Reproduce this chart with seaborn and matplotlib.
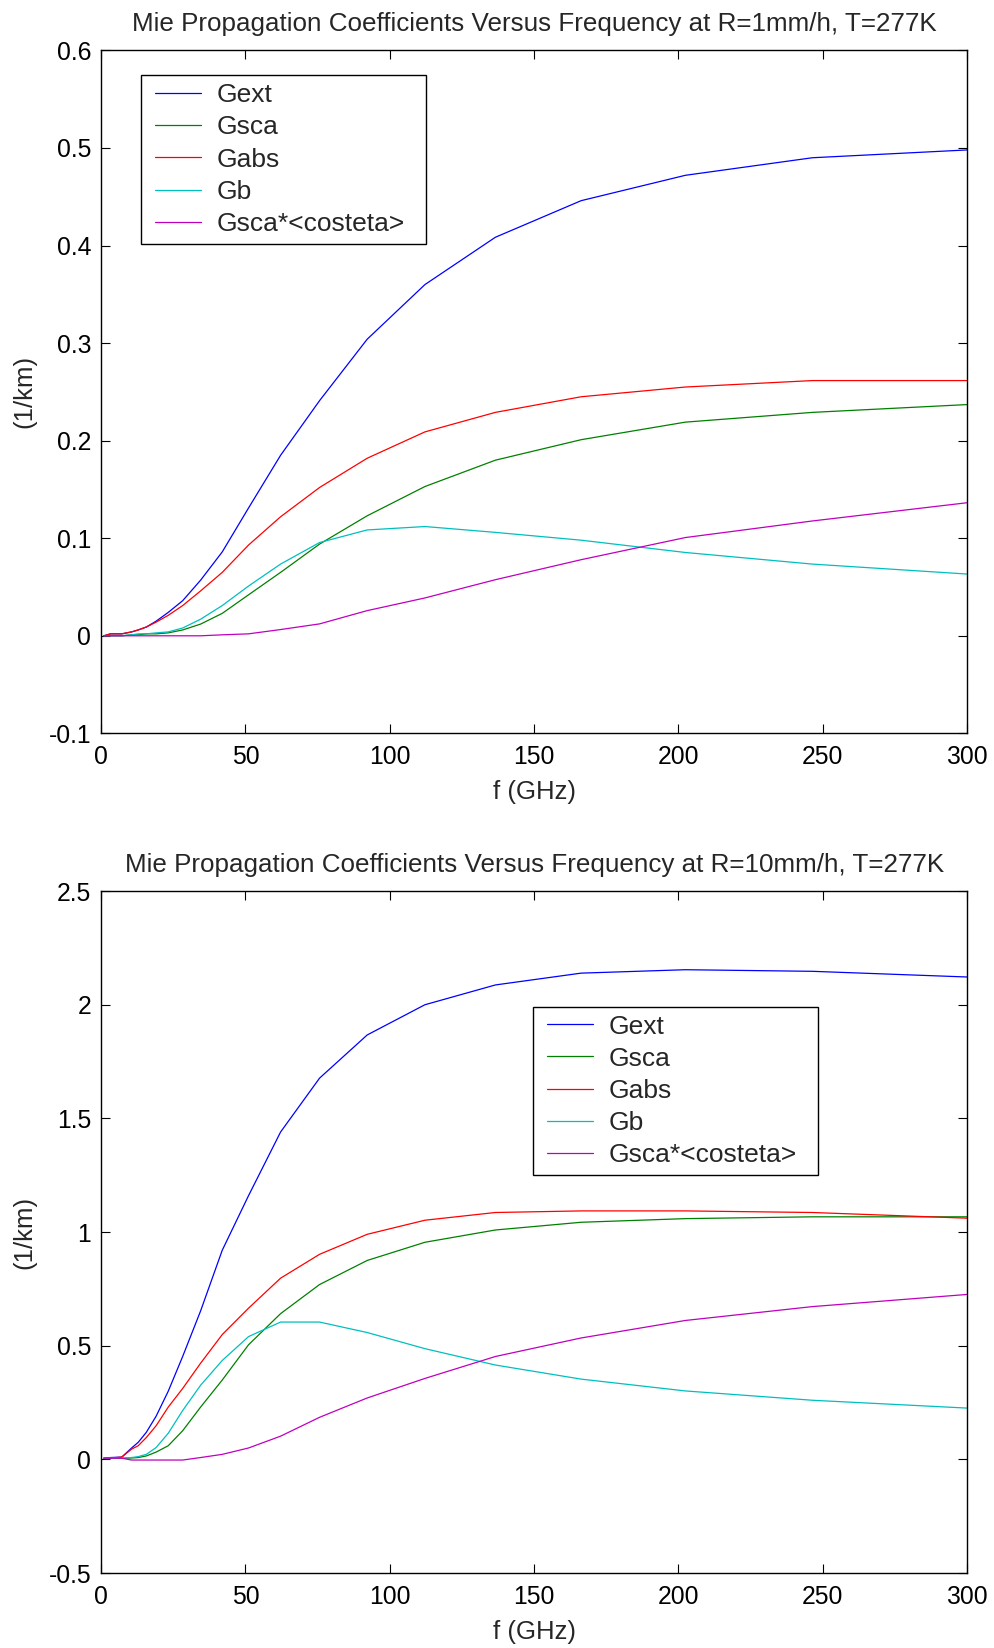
import matplotlib
matplotlib.use("Agg")
import matplotlib.pyplot as plt
from matplotlib.patches import Rectangle
import seaborn as sns
import pandas as pd

# Frequency grid (GHz)
freq = [1.0, 3.3, 7.2, 10.6, 12.9, 15.7, 19.1, 23.3, 28.3, 34.5, 42.0,
        51.1, 62.2, 75.7, 92.2, 112.2, 136.6, 166.3, 202.4, 246.4, 300.0]

series_names = ["Gext", "Gsca", "Gabs", "Gb", "Gsca*<costeta>"]

# R = 1 mm/h
r1_gext = [0.0, 0.002, 0.002, 0.004, 0.006, 0.009, 0.015, 0.024, 0.036, 0.057, 0.086,
           0.131, 0.185, 0.241, 0.304, 0.360, 0.4085, 0.446, 0.472, 0.490, 0.498]
r1_gsca = [0.0, 0.0, 0.0, 0.001, 0.001, 0.002, 0.002, 0.003, 0.006, 0.012, 0.023,
           0.042, 0.065, 0.094, 0.123, 0.153, 0.180, 0.201, 0.219, 0.229, 0.237]
r1_gabs = [0.0, 0.002, 0.002, 0.004, 0.006, 0.009, 0.014, 0.021, 0.031, 0.046, 0.065,
           0.093, 0.122, 0.152, 0.182, 0.209, 0.229, 0.245, 0.255, 0.2616, 0.2616]
r1_gb = [0.0, 0.0, 0.0, 0.001, 0.002, 0.002, 0.003, 0.004, 0.008, 0.017, 0.031,
         0.051, 0.0735, 0.0956, 0.1085, 0.112, 0.106, 0.098, 0.0854, 0.0735, 0.0633]
r1_gcos = [0.0, 0.0, 0.0, 0.0, 0.0, 0.0, 0.0, 0.0, 0.0, 0.0, 0.001,
           0.002, 0.0064, 0.0122, 0.0258, 0.0388, 0.0575, 0.078, 0.1007, 0.1177, 0.1364]

# R = 10 mm/h
r10_gext = [0.005, 0.008, 0.010, 0.050, 0.075, 0.119, 0.190, 0.300, 0.453, 0.653, 0.920,
            1.160, 1.440, 1.677, 1.867, 2.000, 2.087, 2.139, 2.154, 2.147, 2.122]
r10_gsca = [0.005, 0.005, 0.005, 0.006, 0.008, 0.015, 0.032, 0.060, 0.126, 0.230, 0.349,
            0.504, 0.641, 0.769, 0.875, 0.955, 1.009, 1.043, 1.059, 1.067, 1.067]
r10_gabs = [0.005, 0.006, 0.010, 0.045, 0.060, 0.096, 0.148, 0.230, 0.312, 0.423, 0.549,
            0.665, 0.797, 0.902, 0.990, 1.052, 1.086, 1.093, 1.093, 1.086, 1.061]
r10_gb = [0.005, 0.005, 0.005, 0.008, 0.012, 0.022, 0.052, 0.115, 0.215, 0.326, 0.435,
          0.540, 0.604, 0.604, 0.558, 0.487, 0.415, 0.353, 0.301, 0.260, 0.2255]
r10_gcos = [0.005, 0.005, 0.005, -0.003, -0.003, -0.003, -0.003, -0.003, -0.003, 0.008, 0.022,
            0.050, 0.102, 0.185, 0.270, 0.356, 0.4525, 0.534, 0.611, 0.672, 0.7255]

titles = ["Mie Propagation Coefficients Versus Frequency at R=1mm/h, T=277K",
          "Mie Propagation Coefficients Versus Frequency at R=10mm/h, T=277K"]
x_label = "f (GHz)"
y_label = "(1/km)"
x_ticks = [0, 50, 100, 150, 200, 250, 300]
top_yticks = [-0.1, 0, 0.1, 0.2, 0.3, 0.4, 0.5, 0.6]
top_ylabels = ["-0.1", "0", "0.1", "0.2", "0.3", "0.4", "0.5", "0.6"]
bot_yticks = [-0.5, 0, 0.5, 1.0, 1.5, 2.0, 2.5]
bot_ylabels = ["-0.5", "0", "0.5", "1", "1.5", "2", "2.5"]

palette = {"Gext": (0, 0, 1), "Gsca": (0, 0.5, 0), "Gabs": (1, 0, 0),
           "Gb": (0, 0.75, 0.75), "Gsca*<costeta>": (0.75, 0, 0.75)}


def long_frame(cols):
    rows = []
    for name, vals in zip(series_names, cols):
        for f, v in zip(freq, vals):
            rows.append({"f": f, "value": v, "series": name})
    return pd.DataFrame(rows)


df_top = long_frame([r1_gext, r1_gsca, r1_gabs, r1_gb, r1_gcos])
df_bot = long_frame([r10_gext, r10_gsca, r10_gabs, r10_gb, r10_gcos])

sns.set_theme(style="white")
plt.rcParams["font.family"] = ["Liberation Sans", "DejaVu Sans"]
plt.rcParams["axes.edgecolor"] = "black"
plt.rcParams["axes.linewidth"] = 1.0

fig = plt.figure(figsize=(9.95, 16.48), dpi=100)
ax_top = fig.add_axes([0.1015, 0.555, 0.8705, 0.4144])
ax_bot = fig.add_axes([0.1015, 0.0455, 0.8705, 0.4138])

FS_TITLE = 18.7
FS_TICK = 17.8
FS_LABEL = 18.5
FS_LEG = 19

configs = [
    (ax_top, df_top, (-0.1, 0.6), top_yticks, top_ylabels, titles[0],
     (0.0623, 0.952)),
    (ax_bot, df_bot, (-0.5, 2.5), bot_yticks, bot_ylabels, titles[1],
     (0.515, 0.819)),
]

legends = []
for ax, df, ylim, yt, ytl, title, leg_anchor in configs:
    sns.lineplot(data=df, x="f", y="value", hue="series", hue_order=series_names,
                 palette=palette, errorbar=None, linewidth=0.9, ax=ax)
    ax.set_xlim(0, 300)
    ax.set_ylim(*ylim)
    ax.set_xticks(x_ticks)
    ax.set_xticklabels([str(t) for t in x_ticks])
    ax.set_yticks(yt)
    ax.set_yticklabels(ytl)
    ax.tick_params(axis="both", direction="in", length=6.5, width=0.8,
                   labelsize=FS_TICK, top=True, right=True,
                   bottom=True, left=True, colors="black")
    ax.tick_params(axis="x", pad=8.5)
    ax.tick_params(axis="y", pad=7)
    ax.set_xlabel(x_label, fontsize=FS_LABEL, labelpad=8)
    ax.set_ylabel(y_label, fontsize=FS_LABEL, labelpad=9)
    ax.set_title(title, fontsize=FS_TITLE, pad=14)
    for sp in ax.spines.values():
        sp.set_visible(True)
        sp.set_color("black")
        sp.set_linewidth(1.0)
    leg = ax.legend(loc="upper left", bbox_to_anchor=leg_anchor, fontsize=FS_LEG,
                    frameon=False, borderpad=0.0, labelspacing=0.31,
                    handlelength=1.74, handletextpad=0.6,
                    borderaxespad=0.0)
    legends.append((ax, leg))

# Boxed frame around each legend, wider on the sides than on top/bottom
fig.canvas.draw()
renderer = fig.canvas.get_renderer()
for ax, leg in legends:
    bb = leg.get_window_extent(renderer)
    left, right, top, bottom = 14, 21, 8, 8
    x0, y0 = bb.x0 - left, bb.y0 - bottom
    w, h = bb.width + left + right, bb.height + top + bottom
    (ax0, ay0), (ax1, ay1) = ax.transAxes.inverted().transform([(x0, y0), (x0 + w, y0 + h)])
    ax.add_patch(Rectangle((ax0, ay0), ax1 - ax0, ay1 - ay0, transform=ax.transAxes,
                           facecolor="white", edgecolor="black", linewidth=1.0,
                           zorder=4.9))
    leg.set_zorder(5)

fig.savefig("out.png", dpi=100, facecolor="white")
